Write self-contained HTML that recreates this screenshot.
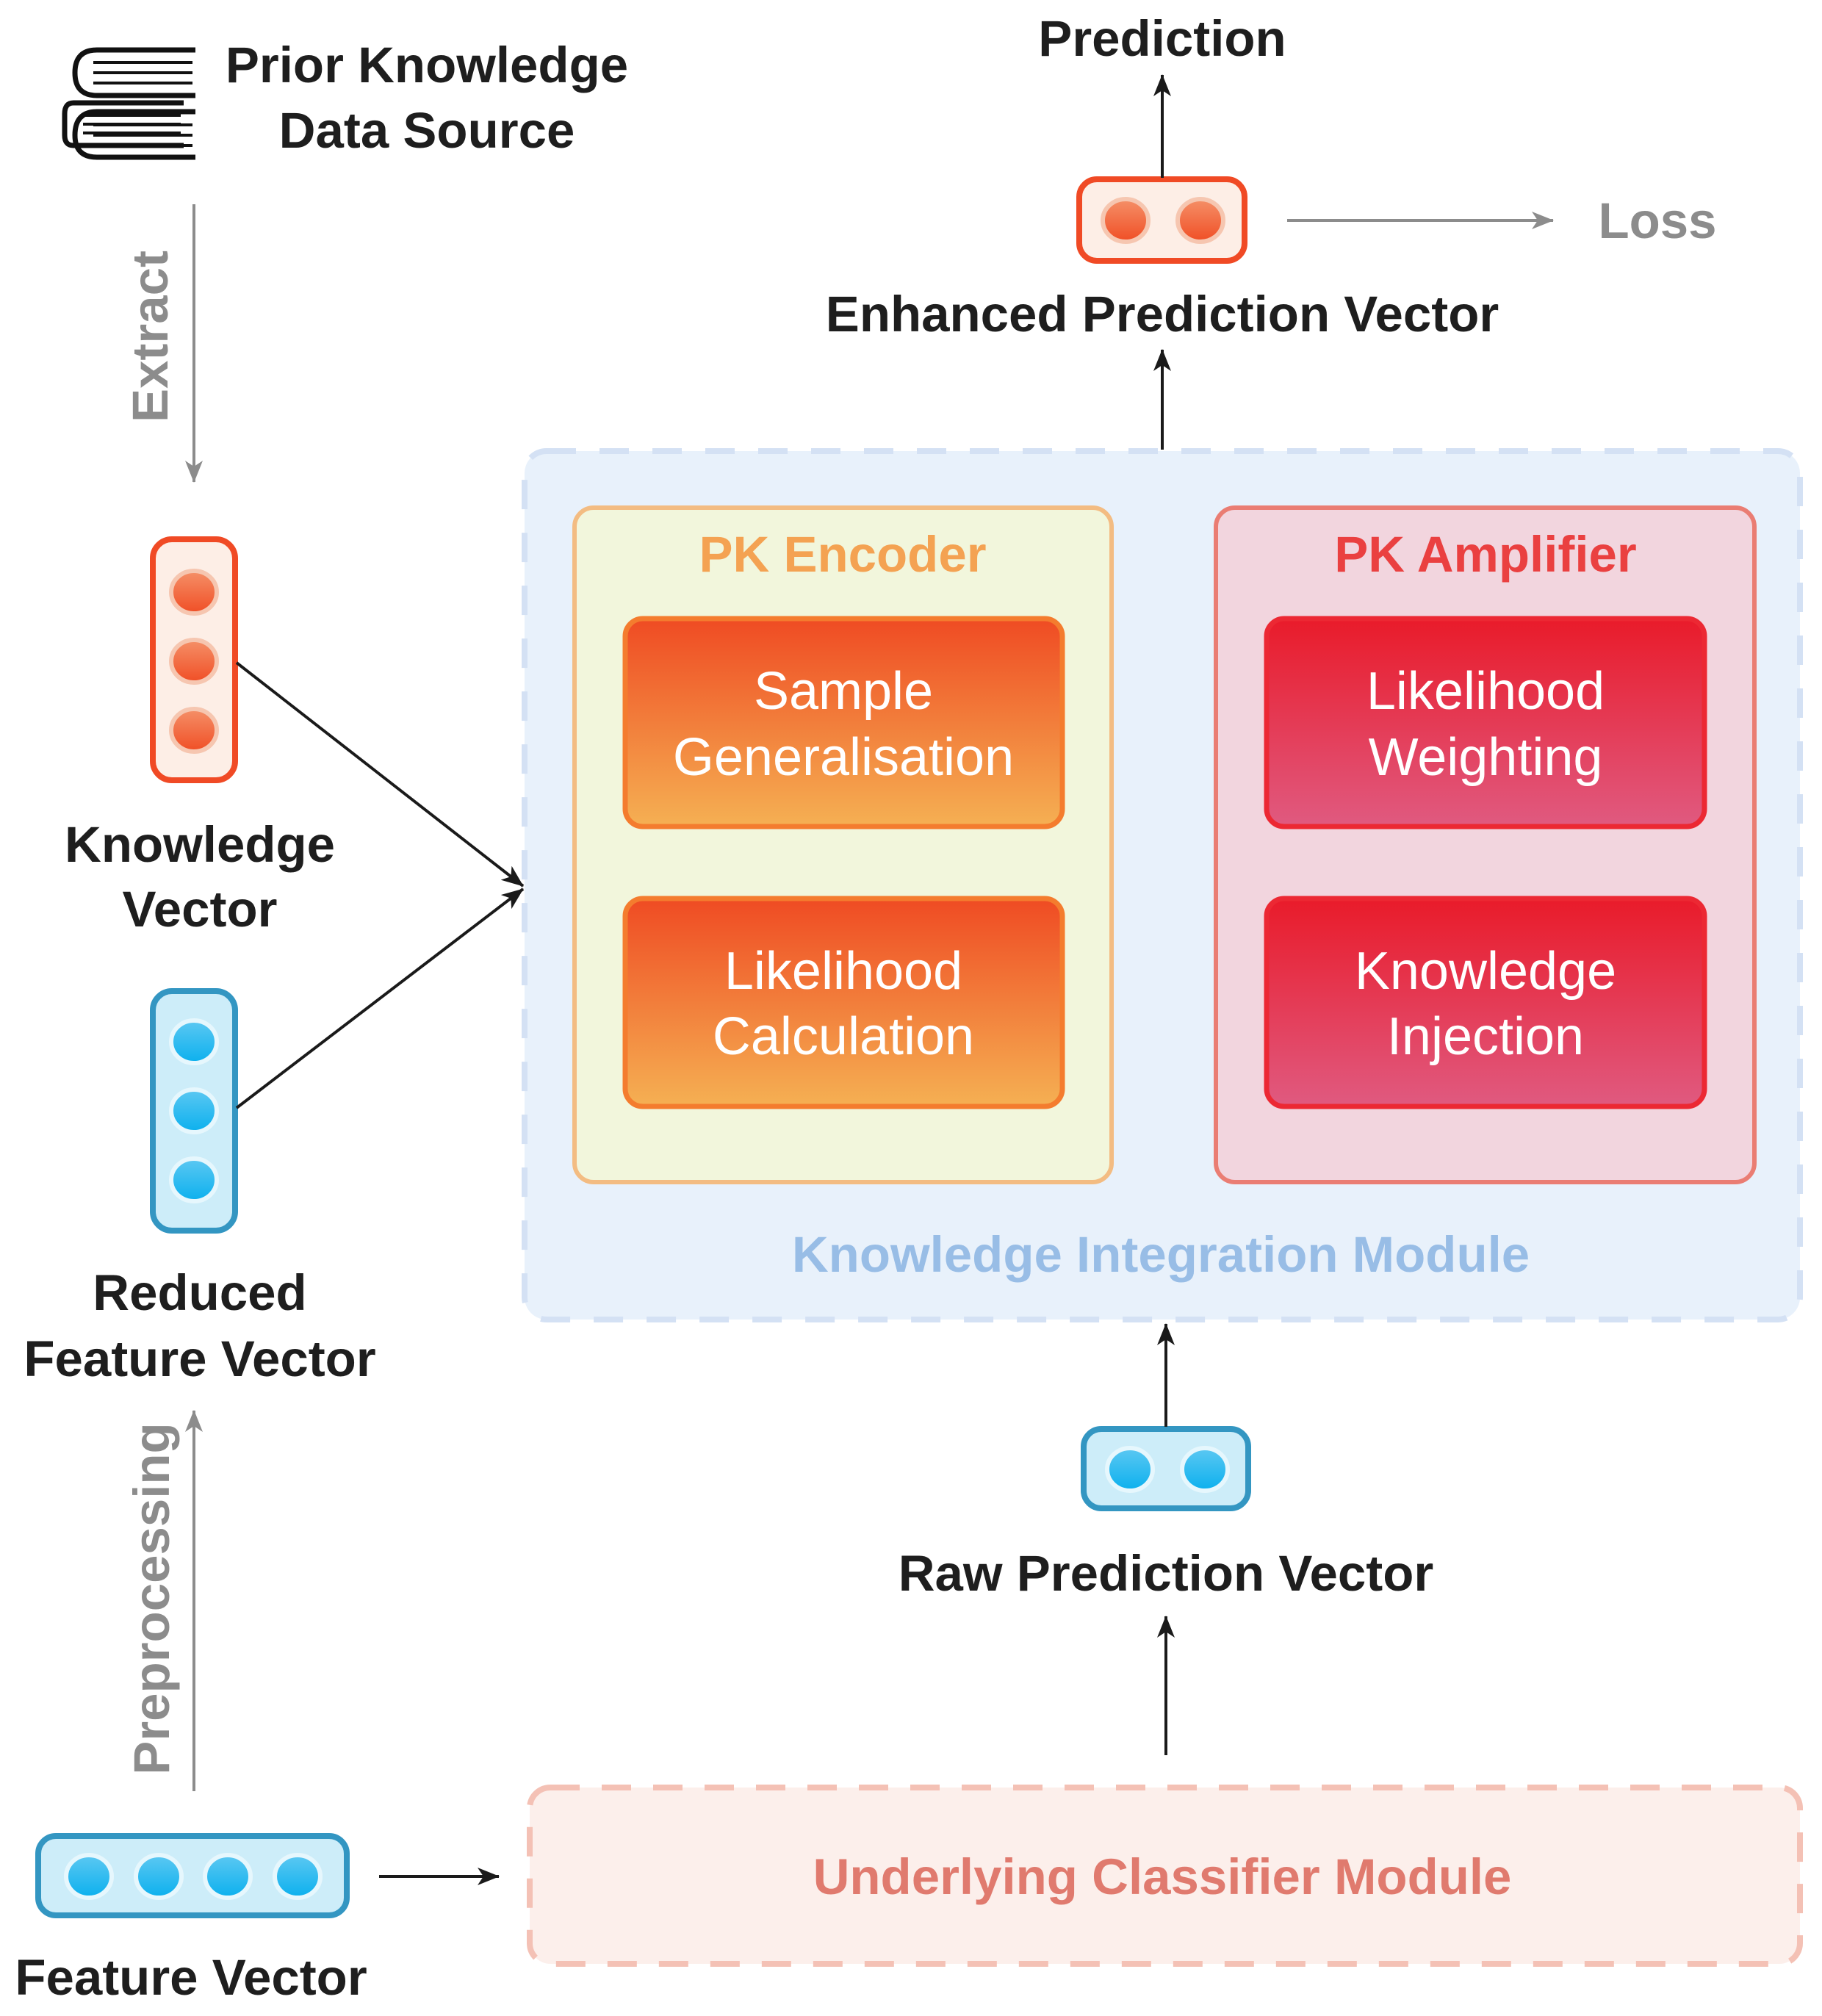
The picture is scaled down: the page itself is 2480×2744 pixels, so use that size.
<!DOCTYPE html>
<html><head><meta charset="utf-8"><style>
html,body{margin:0;padding:0;background:#fff}
svg{display:block}
text{font-family:"Liberation Sans",Arial,sans-serif;font-weight:bold}
.w{font-weight:normal}
</style></head><body>
<svg width="2480" height="2744" viewBox="0 0 2480 2744" xmlns="http://www.w3.org/2000/svg">
<defs>
<linearGradient id="og" x1="0" y1="0" x2="0" y2="1"><stop offset="0" stop-color="#ef4b23"/><stop offset="1" stop-color="#f5b053"/></linearGradient>
<linearGradient id="rg" x1="0" y1="0" x2="0" y2="1"><stop offset="0" stop-color="#e91b2a"/><stop offset="1" stop-color="#e05a80"/></linearGradient>
<linearGradient id="oc" x1="0" y1="0" x2="0" y2="1"><stop offset="0" stop-color="#f59068"/><stop offset="1" stop-color="#f04e25"/></linearGradient>
<linearGradient id="bc" x1="0" y1="0" x2="0" y2="1"><stop offset="0" stop-color="#5cc8f2"/><stop offset="1" stop-color="#0bb0ee"/></linearGradient>
<marker id="a" viewBox="0 0 30 24" refX="29" refY="12" markerWidth="30" markerHeight="24" orient="auto" markerUnits="userSpaceOnUse"><path d="M0,0 L30,12 L0,24 L8,12 Z" fill="#1a1a1a"/></marker>
<marker id="g" viewBox="0 0 30 24" refX="29" refY="12" markerWidth="30" markerHeight="24" orient="auto" markerUnits="userSpaceOnUse"><path d="M0,0 L30,12 L0,24 L8,12 Z" fill="#8c8c8c"/></marker>
</defs>

<g fill="none" stroke="#111" stroke-width="7">
<path d="M266,68 H132 Q102,68 102,99 Q102,130 132,130 H266"/>
<path d="M250,140 H100 Q88,140 88,155 V184 Q88,198 100,198 H250"/>
<path d="M266,214 H132 Q102,214 102,184 Q102,152 132,152 H266"/>
</g>
<g stroke="#111" stroke-width="4">
<line x1="127" y1="85" x2="262" y2="85"/><line x1="127" y1="99" x2="262" y2="99"/><line x1="127" y1="113" x2="262" y2="113"/>
<line x1="113" y1="157" x2="246" y2="157"/><line x1="113" y1="169" x2="246" y2="169"/><line x1="113" y1="181" x2="246" y2="181"/>
<line x1="127" y1="170" x2="262" y2="170"/><line x1="127" y1="184" x2="262" y2="184"/><line x1="127" y1="198" x2="262" y2="198"/>
</g>
<text x="581" y="112" font-size="69" text-anchor="middle" fill="#1e1e1e">Prior Knowledge</text>
<text x="581" y="201" font-size="69" text-anchor="middle" fill="#1e1e1e">Data Source</text>

<line x1="264" y1="278" x2="264" y2="656" stroke="#8c8c8c" stroke-width="4" marker-end="url(#g)"/>
<text transform="translate(228,458) rotate(-90)" font-size="69" text-anchor="middle" fill="#8c8c8c">Extract</text>

<rect x="208" y="734" width="112" height="328" rx="26" fill="#fdeee6" stroke="#f04a25" stroke-width="8"/>
<g stroke="#f6c6b0" stroke-width="6" fill="url(#oc)">
<ellipse cx="264" cy="806" rx="31" ry="29"/><ellipse cx="264" cy="900" rx="31" ry="29"/><ellipse cx="264" cy="994" rx="31" ry="29"/>
</g>
<text x="272" y="1173" font-size="69" text-anchor="middle" fill="#1e1e1e">Knowledge</text>
<text x="272" y="1261" font-size="69" text-anchor="middle" fill="#1e1e1e">Vector</text>

<rect x="208" y="1349" width="112" height="326" rx="26" fill="#cdedf9" stroke="#3396c2" stroke-width="8"/>
<g stroke="#e6f7fd" stroke-width="6" fill="url(#bc)">
<ellipse cx="264" cy="1418" rx="31" ry="29"/><ellipse cx="264" cy="1512" rx="31" ry="29"/><ellipse cx="264" cy="1606" rx="31" ry="29"/>
</g>
<text x="272" y="1783" font-size="69" text-anchor="middle" fill="#1e1e1e">Reduced</text>
<text x="272" y="1873" font-size="69" text-anchor="middle" fill="#1e1e1e">Feature Vector</text>

<line x1="322" y1="902" x2="712" y2="1206" stroke="#1a1a1a" stroke-width="4" marker-end="url(#a)"/>
<line x1="322" y1="1508" x2="712" y2="1210" stroke="#1a1a1a" stroke-width="4" marker-end="url(#a)"/>

<line x1="264" y1="2438" x2="264" y2="1920" stroke="#8c8c8c" stroke-width="4" marker-end="url(#g)"/>
<text transform="translate(230,2176) rotate(-90)" font-size="69" text-anchor="middle" fill="#8c8c8c">Preprocessing</text>

<rect x="52" y="2499" width="420" height="108" rx="24" fill="#cdedf9" stroke="#3396c2" stroke-width="8"/>
<g stroke="#e6f7fd" stroke-width="6" fill="url(#bc)">
<ellipse cx="121" cy="2554" rx="31" ry="29"/><ellipse cx="216" cy="2554" rx="31" ry="29"/><ellipse cx="310" cy="2554" rx="31" ry="29"/><ellipse cx="405" cy="2554" rx="31" ry="29"/>
</g>
<text x="260" y="2715" font-size="69" text-anchor="middle" fill="#1e1e1e">Feature Vector</text>
<line x1="516" y1="2554" x2="679" y2="2554" stroke="#1a1a1a" stroke-width="4" marker-end="url(#a)"/>

<rect x="721" y="2433" width="1729" height="240" rx="28" fill="#fcefeb" stroke="#f4c1b5" stroke-width="8" stroke-dasharray="40,30"/>
<text x="1582" y="2578" font-size="69" text-anchor="middle" fill="#e07a6e">Underlying Classifier Module</text>
<line x1="1587" y1="2389" x2="1587" y2="2200" stroke="#1a1a1a" stroke-width="4" marker-end="url(#a)"/>

<rect x="1475" y="1945" width="224" height="108" rx="24" fill="#cdedf9" stroke="#3396c2" stroke-width="8"/>
<g stroke="#e6f7fd" stroke-width="6" fill="url(#bc)">
<ellipse cx="1538" cy="2000" rx="31" ry="29"/><ellipse cx="1640" cy="2000" rx="31" ry="29"/>
</g>
<text x="1587" y="2165" font-size="69" text-anchor="middle" fill="#1e1e1e">Raw Prediction Vector</text>
<line x1="1587" y1="1942" x2="1587" y2="1802" stroke="#1a1a1a" stroke-width="4" marker-end="url(#a)"/>

<rect x="714" y="614" width="1736" height="1182" rx="30" fill="#e8f1fb" stroke="#d4e1f4" stroke-width="8" stroke-dasharray="40,32"/>
<text x="1580" y="1731" font-size="69" text-anchor="middle" fill="#98bde6">Knowledge Integration Module</text>

<rect x="782" y="691" width="731" height="918" rx="26" fill="#f2f6dc" stroke="#f3bc82" stroke-width="6"/>
<text x="1147" y="778" font-size="69" text-anchor="middle" fill="#f4a252">PK Encoder</text>
<rect x="851" y="842" width="595" height="283" rx="24" fill="url(#og)" stroke="#f47c2e" stroke-width="7"/>
<text class="w" x="1148" y="965" font-size="72" text-anchor="middle" fill="#fff">Sample</text>
<text class="w" x="1148" y="1055" font-size="72" text-anchor="middle" fill="#fff">Generalisation</text>
<rect x="851" y="1223" width="595" height="283" rx="24" fill="url(#og)" stroke="#f47c2e" stroke-width="7"/>
<text class="w" x="1148" y="1346" font-size="72" text-anchor="middle" fill="#fff">Likelihood</text>
<text class="w" x="1148" y="1435" font-size="72" text-anchor="middle" fill="#fff">Calculation</text>

<rect x="1655" y="691" width="733" height="918" rx="26" fill="#f2d5de" stroke="#ea7d73" stroke-width="6"/>
<text x="2022" y="778" font-size="69" text-anchor="middle" fill="#ea4040">PK Amplifier</text>
<rect x="1724" y="842" width="596" height="283" rx="24" fill="url(#rg)" stroke="#ec2833" stroke-width="7"/>
<text class="w" x="2022" y="965" font-size="72" text-anchor="middle" fill="#fff">Likelihood</text>
<text class="w" x="2022" y="1055" font-size="72" text-anchor="middle" fill="#fff">Weighting</text>
<rect x="1724" y="1223" width="596" height="283" rx="24" fill="url(#rg)" stroke="#ec2833" stroke-width="7"/>
<text class="w" x="2022" y="1346" font-size="72" text-anchor="middle" fill="#fff">Knowledge</text>
<text class="w" x="2022" y="1435" font-size="72" text-anchor="middle" fill="#fff">Injection</text>

<line x1="1582" y1="612" x2="1582" y2="476" stroke="#1a1a1a" stroke-width="4" marker-end="url(#a)"/>
<text x="1582" y="451" font-size="69" text-anchor="middle" fill="#1e1e1e">Enhanced Prediction Vector</text>
<rect x="1469" y="244" width="225" height="111" rx="24" fill="#fdeee6" stroke="#f04a25" stroke-width="8"/>
<g stroke="#f6c6b0" stroke-width="6" fill="url(#oc)">
<ellipse cx="1532" cy="300" rx="31" ry="29"/><ellipse cx="1634" cy="300" rx="31" ry="29"/>
</g>
<line x1="1582" y1="242" x2="1582" y2="102" stroke="#1a1a1a" stroke-width="4" marker-end="url(#a)"/>
<text x="1582" y="76" font-size="69" text-anchor="middle" fill="#1e1e1e">Prediction</text>
<line x1="1752" y1="300" x2="2114" y2="300" stroke="#8c8c8c" stroke-width="4" marker-end="url(#g)"/>
<text x="2256" y="324" font-size="69" text-anchor="middle" fill="#8c8c8c">Loss</text>
</svg>
</body></html>
